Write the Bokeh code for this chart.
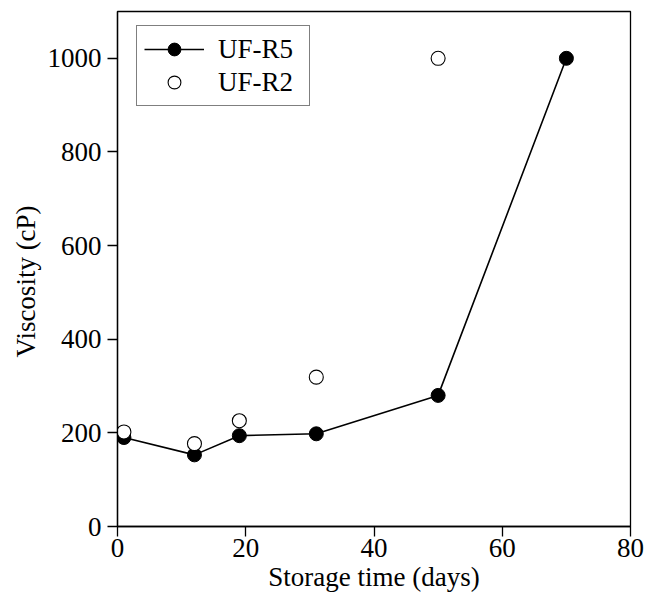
from bokeh.plotting import figure
from bokeh.models import Range1d, FixedTicker, Legend, LegendItem, Title
from bokeh.embed import file_html
from bokeh.resources import INLINE

# Data
days_r5 = [1, 12, 19, 31, 50, 70]
visc_r5 = [190, 153, 194, 198, 280, 1000]
days_r2 = [1, 12, 19, 31, 50]
visc_r2 = [202, 177, 226, 319, 1000]
x_ticks = [0, 20, 40, 60, 80]
y_ticks = [0, 200, 400, 600, 800, 1000]

FONT = "Liberation Serif"
FS = "27px"

p = figure(frame_width=513, frame_height=515,
           min_border_left=117, min_border_right=16,
           min_border_top=11, min_border_bottom=70,
           x_range=Range1d(0, 80), y_range=Range1d(0, 1100),
           output_backend="svg", toolbar_location=None,
           background_fill_color="white", border_fill_color="white")

p.grid.visible = False
p.outline_line_color = "black"
p.outline_line_width = 1.3

for ax in (p.xaxis[0], p.yaxis[0]):
    ax.axis_line_color = "black"
    ax.axis_line_width = 1.3
    ax.major_tick_line_color = "black"
    ax.major_tick_line_width = 1.3
    ax.major_tick_out = 10
    ax.major_tick_in = 0
    ax.minor_tick_line_color = None
    ax.major_label_text_font = FONT
    ax.major_label_text_font_size = FS
    ax.major_label_text_color = "black"

p.xaxis.ticker = FixedTicker(ticks=x_ticks)
p.yaxis.ticker = FixedTicker(ticks=y_ticks)
p.xaxis.major_label_standoff = 2
p.yaxis.major_label_standoff = 6

p.xaxis.axis_label = "Storage time (days)"
p.xaxis.axis_label_text_font = FONT
p.xaxis.axis_label_text_font_size = FS
p.xaxis.axis_label_text_font_style = "normal"
p.xaxis.axis_label_text_color = "black"
p.xaxis.axis_label_standoff = 2

ytitle = Title(text="Viscosity (cP)", align="left", offset=169,
               text_font=FONT, text_font_size=FS, text_font_style="normal",
               text_color="black", standoff=8)
p.add_layout(ytitle, "left")

line_r5 = p.line(days_r5, visc_r5, line_color="black", line_width=1.6)
pts_r5 = p.scatter(days_r5, visc_r5, size=14, marker="circle",
                   fill_color="black", line_color="black")
pts_r2 = p.scatter(days_r2, visc_r2, size=14, marker="circle",
                   fill_color="white", line_color="black", line_width=1.1)

legend = Legend(items=[
    LegendItem(label="UF-R5", renderers=[line_r5, pts_r5]),
    LegendItem(label="UF-R2", renderers=[pts_r2]),
], location=(19, 420))
legend.label_text_font = FONT
legend.label_text_font_size = FS
legend.label_text_color = "black"
legend.border_line_color = "black"
legend.border_line_width = 1
legend.background_fill_alpha = 1
legend.padding = 7
legend.spacing = 1
legend.glyph_width = 60
legend.glyph_height = 32
legend.label_height = 32
legend.label_width = 84
legend.label_standoff = 14
legend.margin = 0
p.add_layout(legend, "center")

open("out.html", "w").write(file_html(p, INLINE))
